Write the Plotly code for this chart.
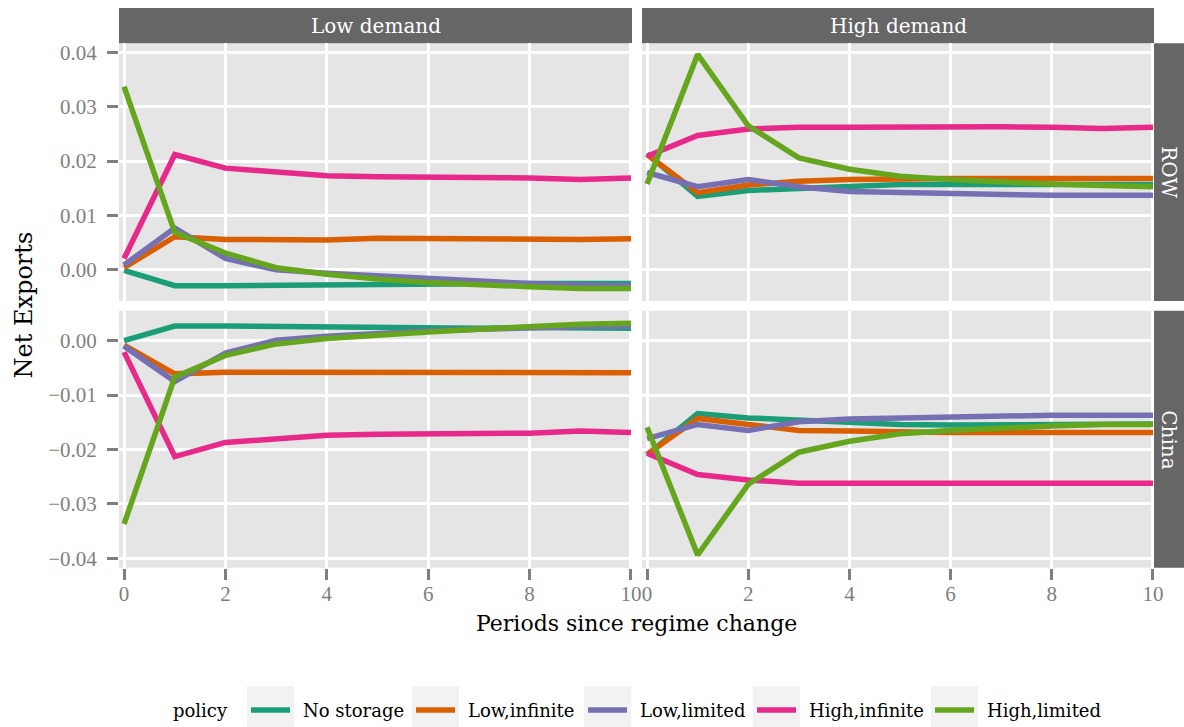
import plotly.graph_objects as go

# ---------------- data ----------------
periods = [0, 1, 2, 3, 4, 5, 6, 7, 8, 9, 10]
policies = ["No storage", "Low,infinite", "Low,limited", "High,infinite", "High,limited"]
demand_levels = ["Low demand", "High demand"]
regions = ["ROW", "China"]
x_ticks = [0, 2, 4, 6, 8, 10]
row_y_ticks = [0.00, 0.01, 0.02, 0.03, 0.04]
china_y_ticks = [-0.04, -0.03, -0.02, -0.01, 0.00]

# ROW, Low demand
row_low_no_storage = [-0.0001, -0.0029, -0.0029, -0.0028, -0.0028, -0.0026, -0.0026, -0.0026, -0.0025, -0.0025, -0.0025]
row_low_low_inf = [0.0004, 0.0061, 0.0056, 0.0056, 0.0055, 0.0058, 0.0057, 0.0058, 0.0057, 0.0056, 0.0057]
row_low_low_lim = [0.0009, 0.0077, 0.0021, 0.0000, -0.0006, -0.0011, -0.0017, -0.0021, -0.0025, -0.0028, -0.0029]
row_low_high_inf = [0.0021, 0.0212, 0.0187, 0.0179, 0.0173, 0.0171, 0.0171, 0.0170, 0.0169, 0.0166, 0.0169]
row_low_high_lim = [0.0337, 0.0069, 0.0031, 0.0004, -0.0008, -0.0017, -0.0023, -0.0028, -0.0031, -0.0034, -0.0034]

# China, Low demand
china_low_no_storage = [0.0000, 0.0027, 0.0027, 0.0026, 0.0025, 0.0023, 0.0023, 0.0023, 0.0024, 0.0023, 0.0023]
china_low_low_inf = [-0.0008, -0.0061, -0.0058, -0.0058, -0.0057, -0.0059, -0.0059, -0.0059, -0.0059, -0.0058, -0.0059]
china_low_low_lim = [-0.0010, -0.0075, -0.0023, 0.0001, 0.0008, 0.0014, 0.0018, 0.0021, 0.0024, 0.0026, 0.0027]
china_low_high_inf = [-0.0021, -0.0213, -0.0187, -0.0180, -0.0174, -0.0172, -0.0171, -0.0171, -0.0170, -0.0166, -0.0169]
china_low_high_lim = [-0.0337, -0.0067, -0.0027, -0.0006, 0.0004, 0.0011, 0.0016, 0.0021, 0.0026, 0.0030, 0.0032]

# ROW, High demand
row_high_no_storage = [0.0213, 0.0135, 0.0146, 0.0150, 0.0153, 0.0157, 0.0157, 0.0157, 0.0157, 0.0157, 0.0157]
row_high_low_inf = [0.0212, 0.0142, 0.0156, 0.0163, 0.0166, 0.0168, 0.0168, 0.0168, 0.0168, 0.0168, 0.0168]
row_high_low_lim = [0.0179, 0.0153, 0.0166, 0.0153, 0.0144, 0.0142, 0.0141, 0.0140, 0.0137, 0.0137, 0.0137]
row_high_high_inf = [0.0209, 0.0247, 0.0259, 0.0262, 0.0262, 0.0263, 0.0263, 0.0263, 0.0262, 0.0260, 0.0262]
row_high_high_lim = [0.0158, 0.0396, 0.0265, 0.0206, 0.0185, 0.0172, 0.0166, 0.0161, 0.0158, 0.0155, 0.0153]

# China, High demand
china_high_no_storage = [-0.0210, -0.0134, -0.0142, -0.0146, -0.0151, -0.0154, -0.0155, -0.0155, -0.0155, -0.0154, -0.0153]
china_high_low_inf = [-0.0209, -0.0143, -0.0154, -0.0165, -0.0166, -0.0168, -0.0169, -0.0169, -0.0169, -0.0169, -0.0169]
china_high_low_lim = [-0.0180, -0.0154, -0.0165, -0.0149, -0.0144, -0.0142, -0.0140, -0.0139, -0.0137, -0.0137, -0.0137]
china_high_high_inf = [-0.0207, -0.0246, -0.0256, -0.0262, -0.0262, -0.0262, -0.0262, -0.0262, -0.0262, -0.0260, -0.0262]
china_high_high_lim = [-0.0159, -0.0394, -0.0264, -0.0205, -0.0185, -0.0171, -0.0165, -0.0160, -0.0157, -0.0154, -0.0154]

panels = {
    ("ROW", "Low demand"): [row_low_no_storage, row_low_low_inf, row_low_low_lim, row_low_high_inf, row_low_high_lim],
    ("China", "Low demand"): [china_low_no_storage, china_low_low_inf, china_low_low_lim, china_low_high_inf, china_low_high_lim],
    ("ROW", "High demand"): [row_high_no_storage, row_high_low_inf, row_high_low_lim, row_high_high_inf, row_high_high_lim],
    ("China", "High demand"): [china_high_no_storage, china_high_low_inf, china_high_low_lim, china_high_high_inf, china_high_high_lim],
}

# ---------------- style ----------------
colors = ["#1B9E77", "#D95F02", "#7570B3", "#E7298A", "#66A61E"]
FONT = "DejaVu Serif"
TICK_FONT = "Liberation Serif"
W, H = 1184, 727
STRIP = "#666666"
PANEL_BG = "#E5E5E5"
TICK_GREY = "#7F7F7F"


def px(x):
    return x / W


def py(y):
    return 1 - y / H


col_dom = [[px(119), px(632)], [px(642), px(1154)]]
row_dom = [[py(301), py(43.3)], [py(567.7), py(310.7)]]
x_range = [-0.1, 10.02]
y_ranges = [[-0.00572, 0.04165], [-0.04173, 0.00551]]
y_tick_sets = [row_y_ticks, china_y_ticks]

fig = go.Figure()
layout = dict(
    template="none",
    width=W, height=H, autosize=False,
    margin=dict(l=0, r=0, t=0, b=0, pad=0),
    paper_bgcolor="white", plot_bgcolor=PANEL_BG,
    showlegend=False,
    font=dict(family=FONT, color="black"),
)
shapes = []
annotations = []

for r, region in enumerate(regions):
    for c, demand in enumerate(demand_levels):
        k = r * 2 + c + 1
        xa = "x" if k == 1 else f"x{k}"
        ya = "y" if k == 1 else f"y{k}"
        series = panels[(region, demand)]
        for i, pol in enumerate(policies):
            fig.add_trace(go.Scatter(
                x=periods, y=series[i], mode="lines", name=pol,
                line=dict(color=colors[i], width=5.5),
                xaxis=xa, yaxis=ya, showlegend=False,
            ))
        bottom = r == len(regions) - 1
        left = c == 0
        layout["xaxis" if k == 1 else f"xaxis{k}"] = dict(
            domain=col_dom[c], anchor=ya, range=x_range, automargin=False,
            tickmode="array", tickvals=x_ticks, ticktext=[str(v) for v in x_ticks],
            showticklabels=bottom, ticks="outside" if bottom else "",
            ticklen=11, tickwidth=2.5, tickcolor=TICK_GREY,
            ticklabelstandoff=-4,
            tickfont=dict(family=TICK_FONT, size=21, color=TICK_GREY),
            showgrid=True, gridcolor="white", gridwidth=2.5,
            zeroline=False, showline=False, fixedrange=True,
        )
        layout["yaxis" if k == 1 else f"yaxis{k}"] = dict(
            domain=row_dom[r], anchor=xa, range=y_ranges[r], automargin=False,
            tickmode="array", tickvals=y_tick_sets[r],
            ticktext=[f"{v:.2f}".replace("-", "\u2212") for v in y_tick_sets[r]],
            showticklabels=left, ticks="outside" if left else "",
            ticklen=11, tickwidth=2.5, tickcolor=TICK_GREY,
            ticklabelstandoff=6,
            tickfont=dict(family=TICK_FONT, size=21, color=TICK_GREY),
            showgrid=True, gridcolor="white", gridwidth=2.5,
            zeroline=False, showline=False, fixedrange=True,
        )

# facet strips (top)
for c, demand in enumerate(demand_levels):
    shapes.append(dict(type="rect", xref="paper", yref="paper",
                       x0=col_dom[c][0], x1=col_dom[c][1], y0=py(43.3), y1=py(8),
                       fillcolor=STRIP, line=dict(width=0), layer="below"))
    annotations.append(dict(text=demand, xref="paper", yref="paper",
                            x=(col_dom[c][0] + col_dom[c][1]) / 2, y=(py(43.3) + py(8)) / 2,
                            xanchor="center", yanchor="middle", showarrow=False,
                            font=dict(family=FONT, size=20, color="white")))
# facet strips (right)
for r, region in enumerate(regions):
    shapes.append(dict(type="rect", xref="paper", yref="paper",
                       x0=px(1154), x1=1.0, y0=row_dom[r][0], y1=row_dom[r][1],
                       fillcolor=STRIP, line=dict(width=0), layer="below"))
    annotations.append(dict(text=region, xref="paper", yref="paper",
                            x=(px(1154) + 1.0) / 2, y=(row_dom[r][0] + row_dom[r][1]) / 2,
                            xanchor="center", yanchor="middle", showarrow=False, textangle=90,
                            font=dict(family=FONT, size=20, color="white")))

# axis titles
annotations.append(dict(text="Periods since regime change", xref="paper", yref="paper",
                        x=(col_dom[0][0] + col_dom[1][1]) / 2, y=py(623),
                        xanchor="center", yanchor="middle", showarrow=False,
                        font=dict(family=FONT, size=22, color="black")))
annotations.append(dict(text="Net Exports", xref="paper", yref="paper",
                        x=px(23), y=py(305.5), xanchor="center", yanchor="middle",
                        showarrow=False, textangle=-90,
                        font=dict(family=FONT, size=24, color="black")))

# legend (ggplot style, bottom)
legend_box_left = [247, 412, 584, 753, 931]
key_w = 47
key_cy = 710
annotations.append(dict(text="policy", xref="paper", yref="paper",
                        x=px(171), y=py(key_cy), xanchor="left", yanchor="middle",
                        showarrow=False, font=dict(family=FONT, size=18, color="black")))
for i, pol in enumerate(policies):
    bl = legend_box_left[i]
    shapes.append(dict(type="rect", xref="paper", yref="paper",
                       x0=px(bl), x1=px(bl + key_w), y0=py(key_cy + 24), y1=py(key_cy - 24),
                       fillcolor="#F2F2F2", line=dict(width=0)))
    shapes.append(dict(type="line", xref="paper", yref="paper",
                       x0=px(bl + 4), x1=px(bl + key_w - 4), y0=py(key_cy), y1=py(key_cy),
                       line=dict(color=colors[i], width=5.5)))
    annotations.append(dict(text=pol, xref="paper", yref="paper",
                            x=px(bl + key_w + 7), y=py(key_cy), xanchor="left", yanchor="middle",
                            showarrow=False, font=dict(family=FONT, size=18, color="black")))

layout["shapes"] = shapes
layout["annotations"] = annotations
fig.update_layout(**layout)
fig.write_html(
    "out.html",
    post_script="document.documentElement.style.overflow='hidden';"
                "document.body.style.margin='0';document.body.style.overflow='hidden';",
)
